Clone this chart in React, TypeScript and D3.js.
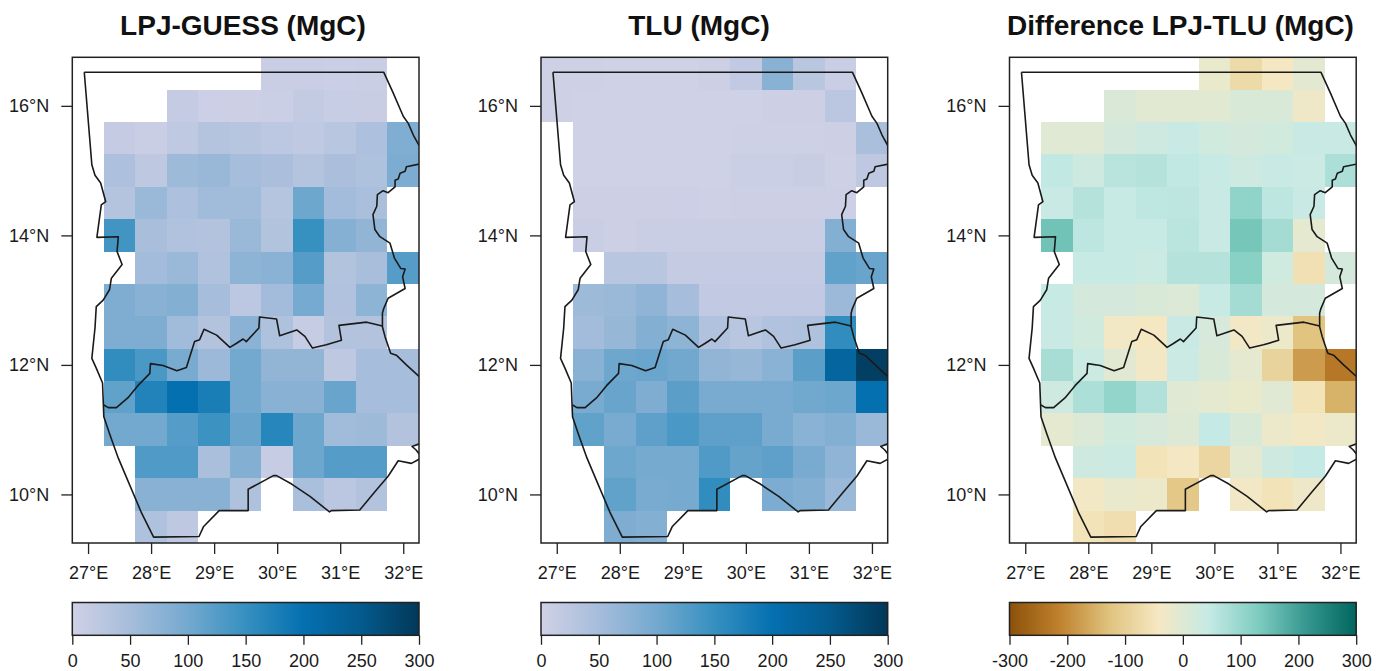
import React, { useEffect, useRef } from "react";
import * as d3 from "d3";

const lons = [27, 27.5, 28, 28.5, 29, 29.5, 30, 30.5, 31, 31.5, 32];
const lats = [16.5, 16, 15.5, 15, 14.5, 14, 13.5, 13, 12.5, 12, 11.5, 11, 10.5, 10, 9.5];
const _ = null;

// one row per latitude, one value per longitude (MgC)
const lpjValues = [
  [_, _, _, _, _, _, 8, 8, 6, 8, _],
  [_, _, _, 14, 5, 4, 6, 15, 11, 10, _],
  [_, 14, 8, 19, 33, 30, 24, 20, 28, 42, 88],
  [_, 42, 22, 58, 63, 50, 44, 33, 44, 40, 92],
  [_, 33, 62, 42, 55, 55, 32, 105, 52, 45, _],
  [_, 140, 48, 38, 35, 62, 36, 150, 82, 70, _],
  [_, _, 52, 62, 37, 75, 78, 125, 36, 48, 125],
  [_, 90, 80, 85, 50, 24, 52, 97, 38, 75, _],
  [_, 90, 90, 55, 35, 78, 40, 12, 35, 35, _],
  [_, 155, 135, 95, 60, 100, 70, 70, 22, 50, 50],
  [_, 115, 170, 200, 180, 100, 80, 80, 110, 50, 50],
  [_, 100, 100, 125, 145, 110, 165, 105, 55, 58, 35],
  [_, _, 130, 130, 45, 85, 12, 105, 125, 125, _],
  [_, _, 80, 80, 80, 40, _, 45, 25, 35, _],
  [_, _, 40, 22, _, _, _, _, _, _, _],
];

const tluValues = [
  [2, 2, 1, 1, 1, 4, 18, 80, 28, 8, _],
  [2, 1, 1, 1, 1, 1, 1, 4, 4, 25, _],
  [_, 1, 1, 1, 1, 1, 2, 2, 2, 3, 45],
  [_, 1, 1, 1, 1, 1, 6, 6, 10, 2, 22],
  [_, 4, 3, 3, 5, 2, 3, 3, 3, 5, _],
  [_, 7, 4, 7, 7, 7, 7, 7, 7, 85, _],
  [_, _, 28, 28, 14, 14, 14, 14, 14, 115, 110],
  [_, 58, 62, 72, 50, 18, 18, 18, 18, 60, _],
  [_, 52, 65, 85, 75, 38, 27, 38, 40, 155, _],
  [_, 80, 105, 108, 102, 70, 65, 78, 120, 225, 290],
  [_, 95, 110, 90, 120, 95, 95, 95, 103, 105, 200],
  [_, 115, 95, 118, 135, 118, 118, 95, 78, 85, 62],
  [_, _, 105, 98, 98, 130, 112, 118, 95, 72, _],
  [_, _, 115, 95, 98, 155, _, 92, 85, 62, _],
  [_, _, 90, 85, _, _, _, _, _, _, _],
];

const diffValues = [
  [_, _, _, _, _, _, -20, -75, -45, -8, _],
  [_, _, _, 8, -5, -5, -4, 10, 10, -30, _],
  [_, -2, 0, 20, 30, 40, 25, 20, 25, 40, 40],
  [_, 50, 30, 60, 65, 50, 42, 30, 40, 38, 75],
  [_, 40, 65, 42, 52, 55, 40, 110, 55, 40, _],
  [_, 145, 55, 42, 42, 58, 40, 140, 85, -12, _],
  [_, _, 42, 42, 35, 65, 65, 118, 28, -62, 20],
  [_, 42, 20, 20, 10, 5, 42, 85, 20, 20, _],
  [_, 40, 25, -38, -45, 40, 15, -35, -25, -125, _],
  [_, 80, 35, -5, -35, 38, 10, -10, -90, -180, -230],
  [_, 30, 75, 105, 70, 0, -12, -20, 0, -55, -150],
  [_, -12, 5, 25, 15, 2, 45, 10, -25, -35, -25],
  [_, _, 30, 35, -55, -40, -85, -10, 30, 45, _],
  [_, _, -35, -18, -25, -115, _, -35, -55, -30, _],
  [_, _, -55, -65, _, _, _, _, _, _, _],
];

// borders as [lon, lat]
const borderNorth = [
  [26.94, 16.52], [31.69, 16.52], [31.84, 16.2], [32, 15.84], [32.08, 15.73], [32.16, 15.55], [32.3, 15.3],
];
const borderEast = [
  [32.3, 15.11], [32.05, 15.06], [32.03, 14.99], [31.95, 14.96], [31.92, 14.87], [31.87, 14.85], [31.87, 14.75],
  [31.76, 14.66], [31.68, 14.69], [31.59, 14.63], [31.58, 14.45], [31.52, 14.32], [31.55, 14.09], [31.63, 13.98],
  [31.79, 13.88], [31.86, 13.65], [31.96, 13.49], [32.03, 13.48], [31.99, 13.36], [32.03, 13.18], [31.76, 13.03],
  [31.69, 12.87], [31.67, 12.8], [31.67, 12.59], [31.71, 12.44], [31.8, 12.18], [31.89, 12.15], [32.05, 12],
  [32.3, 11.78],
];
const borderSouth = [
  [32.3, 10.8], [32.14, 10.74], [32.2, 10.69], [32.3, 10.57], [32.13, 10.48], [31.92, 10.52], [31.76, 10.28],
  [31.55, 10.04], [31.31, 9.76], [30.86, 9.75], [30.83, 9.73], [30.52, 9.97], [30.23, 10.16], [29.99, 10.29],
  [29.94, 10.29], [29.54, 10.08], [29.54, 9.75], [29.08, 9.75], [28.83, 9.5], [28.76, 9.35], [28.04, 9.34],
  [27.85, 9.71], [27.48, 10.56], [27.34, 10.94], [27.25, 11.2], [27.23, 11.72], [27.13, 11.95], [27.06, 12.1],
  [27.11, 12.57], [27.13, 12.9], [27.24, 13], [27.34, 13.16], [27.37, 13.34], [27.54, 13.55], [27.46, 13.75],
  [27.48, 13.98], [27.14, 13.97], [27.21, 14.47], [27.28, 14.52], [27.2, 14.81], [27.11, 14.93], [27.06, 15.09],
  [26.94, 16.52],
];
const borderInner = [
  [27.25, 11.38], [27.32, 11.34], [27.45, 11.34], [27.63, 11.49], [27.79, 11.68], [27.98, 11.87], [27.99, 12.02],
  [28.19, 11.99], [28.41, 11.91], [28.56, 11.96], [28.69, 12.36], [28.77, 12.39], [28.84, 12.55], [29.04, 12.46],
  [29.25, 12.27], [29.35, 12.33], [29.46, 12.4], [29.51, 12.36], [29.71, 12.57], [29.72, 12.74], [29.99, 12.71],
  [30.04, 12.45], [30.31, 12.54], [30.44, 12.44], [30.56, 12.26], [30.78, 12.31], [31.02, 12.38], [30.98, 12.61],
  [31.42, 12.66], [31.67, 12.6],
];

const lonTicks = [27, 28, 29, 30, 31, 32];
const latTicks = [10, 12, 14, 16];
const stockTicks = [0, 50, 100, 150, 200, 250, 300];
const diffTicks = [-300, -200, -100, 0, 100, 200, 300];

const stockColors = ["#d0d1e6", "#a6bddb", "#74a9cf", "#3690c0", "#0570b0", "#045a8d", "#023858"];
const diffColors = ["#8c510a", "#bf812d", "#dfc27d", "#f6e8c3", "#c7eae5", "#80cdc1", "#35978f", "#01665e"];

const makeRamp = (colors: string[], lo: number, hi: number) =>
  d3.scaleLinear<string>()
    .domain(colors.map((_c, i) => lo + (i * (hi - lo)) / (colors.length - 1)))
    .range(colors)
    .interpolate(d3.interpolateRgb);

const stockColor = makeRamp(stockColors, 0, 300);
const diffColor = makeRamp(diffColors, -300, 300);

const panels = [
  { title: "LPJ-GUESS (MgC)", titleX: 243, values: lpjValues, color: stockColor, colors: stockColors, ticks: stockTicks, left: 72.3 },
  { title: "TLU (MgC)", titleX: 699, values: tluValues, color: stockColor, colors: stockColors, ticks: stockTicks, left: 541 },
  { title: "Difference LPJ-TLU (MgC)", titleX: 1180.5, values: diffValues, color: diffColor, colors: diffColors, ticks: diffTicks, left: 1009.5 },
];

const W = 1387, H = 671;
const plotW = 346.7, top = 57.3, bottom = 543;
const barTop = 602.5, barBottom = 635.3;
const font = '"Liberation Sans", Arial, sans-serif';
const ink = "#1a1a1a";

export default function App() {
  const ref = useRef<SVGSVGElement>(null);

  useEffect(() => {
    const svg = d3.select(ref.current);
    svg.selectAll("*").remove();

    panels.forEach((p, idx) => {
      const g = svg.append("g").attr("font-family", font);
      const x = d3.scaleLinear().domain([26.75, 32.25]).range([p.left, p.left + plotW]);
      const y = d3.scaleLinear().domain([9.25, 16.75]).range([bottom, top]);

      const clipId = `clip-${idx}`;
      g.append("clipPath").attr("id", clipId).append("rect")
        .attr("x", p.left).attr("y", top).attr("width", plotW).attr("height", bottom - top);

      const cells = p.values.flatMap((row, r) =>
        row.map((v, c) => ({ lon: lons[c], lat: lats[r], v })).filter(d => d.v !== null));

      g.append("g").attr("clip-path", `url(#${clipId})`)
        .selectAll("rect").data(cells).join("rect")
        .attr("x", d => x(d.lon - 0.25))
        .attr("y", d => y(d.lat + 0.25))
        .attr("width", d => x(d.lon + 0.25) - x(d.lon - 0.25))
        .attr("height", d => y(d.lat - 0.25) - y(d.lat + 0.25))
        .attr("shape-rendering", "crispEdges")
        .attr("fill", d => p.color(d.v as number));

      const line = d3.line<number[]>().x(d => x(d[0])).y(d => y(d[1]));
      g.append("g").attr("clip-path", `url(#${clipId})`)
        .selectAll("path").data([borderNorth, borderEast, borderSouth, borderInner]).join("path")
        .attr("d", d => line(d))
        .attr("fill", "none").attr("stroke", ink).attr("stroke-width", 1.6).attr("stroke-linejoin", "round");

      g.append("rect")
        .attr("x", p.left).attr("y", top).attr("width", plotW).attr("height", bottom - top)
        .attr("fill", "none").attr("stroke", "#222").attr("stroke-width", 1.5);

      const xAxis = g.append("g").attr("transform", `translate(0,${bottom})`)
        .call(d3.axisBottom(x).tickValues(lonTicks).tickSize(11).tickPadding(12).tickFormat(d => `${d}°E`));
      const yAxis = g.append("g").attr("transform", `translate(${p.left},0)`)
        .call(d3.axisLeft(y).tickValues(latTicks).tickSize(11).tickPadding(12).tickFormat(d => `${d}°N`));

      // colour bar
      const barX = d3.scaleLinear().domain(d3.extent(p.ticks) as [number, number]).range([p.left, p.left + plotW]);
      const gradId = `bar-${idx}`;
      g.append("linearGradient").attr("id", gradId)
        .selectAll("stop").data(p.colors).join("stop")
        .attr("offset", (_d, i) => i / (p.colors.length - 1))
        .attr("stop-color", d => d);
      g.append("rect")
        .attr("x", barX.range()[0]).attr("y", barTop)
        .attr("width", plotW).attr("height", barBottom - barTop)
        .attr("fill", `url(#${gradId})`)
        .attr("stroke", "#222").attr("stroke-width", 1.5);

      const barAxis = g.append("g").attr("transform", `translate(0,${barBottom})`)
        .call(d3.axisBottom(barX).tickValues(p.ticks).tickSize(9.5).tickPadding(9).tickFormat(d => `${d}`));

      [xAxis, yAxis, barAxis].forEach(a => {
        a.select(".domain").remove();
        a.selectAll("line").attr("stroke", "#222").attr("stroke-width", 1.3);
        a.selectAll("text").attr("font-size", 18).attr("font-family", font).attr("fill", ink);
      });

      g.append("text")
        .attr("x", p.titleX).attr("y", 34.5)
        .attr("text-anchor", "middle")
        .attr("font-size", 28).attr("font-weight", "bold").attr("fill", "#111")
        .text(p.title);
    });
  }, []);

  return <svg ref={ref} width={W} height={H} style={{ position: "absolute", left: 0, top: 0, background: "#fff" }} />;
}
